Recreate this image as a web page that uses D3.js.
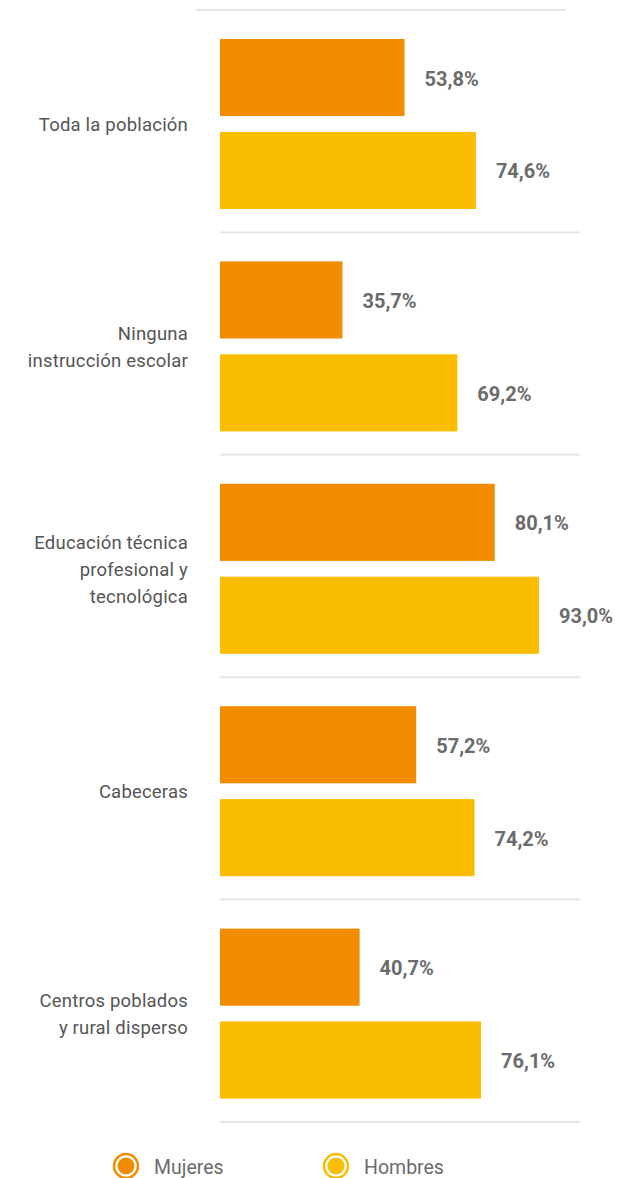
<!DOCTYPE html>
<html><head><meta charset="utf-8">
<script src="https://cdn.jsdelivr.net/npm/d3@7"></script>
<style>body{margin:0;background:#fff}svg{display:block}</style>
</head><body>
<svg id="c" width="627" height="1178"></svg>
<script>
const categories = [
  ["Toda la población"],
  ["Ninguna", "instrucción escolar"],
  ["Educación técnica", "profesional y", "tecnológica"],
  ["Cabeceras"],
  ["Centros poblados", "y rural disperso"]
];
const seriesNames = ["Mujeres", "Hombres"];
const mujeres = [53.8, 35.7, 80.1, 57.2, 40.7];
const hombres = [74.6, 69.2, 93.0, 74.2, 76.1];
const colors = ["#F28C00", "#FBBD00"];

const svg = d3.select("#c");
const keys = categories.map((c, i) => i);
const x = d3.scaleLinear().domain([0, 100]).range([220, 563]);
const y = d3.scaleBand().domain(keys).range([10, 1122]).padding(0);
const yi = d3.scaleBand().domain(seriesNames).range([29, 199]).paddingInner(0.17);
const fmt = v => d3.format(".1f")(v).replace(".", ",") + "%";

// separators
const seps = d3.range(keys.length + 1).map(i => 10 + i * y.step());
svg.selectAll("line.sep").data(seps).join("line")
  .attr("x1", (d, i) => i === 0 ? 196 : 220)
  .attr("x2", (d, i) => i === 0 ? 566 : 580)
  .attr("y1", d => d).attr("y2", d => d)
  .attr("stroke", "#e6e6e6").attr("stroke-width", 2);

const g = svg.selectAll("g.grp").data(keys).join("g")
  .attr("transform", d => `translate(0,${y(d)})`);

g.each(function(i) {
  const gg = d3.select(this);
  const vals = [mujeres[i], hombres[i]];
  seriesNames.forEach((s, j) => {
    gg.append("rect")
      .attr("x", x(0)).attr("y", yi(s))
      .attr("width", x(vals[j]) - x(0)).attr("height", yi.bandwidth())
      .attr("fill", colors[j]);
    gg.append("text")
      .attr("x", x(vals[j]) + 20).attr("y", yi(s) + yi.bandwidth() / 2 + 1)
      .attr("dominant-baseline", "central")
      .attr("font-family", "Roboto, sans-serif").attr("font-weight", 700)
      .attr("font-size", 20).attr("fill", "#6b6b6b")
      .text(fmt(vals[j]));
  });
  const lines = categories[i];
  const lh = 27;
  const cy = y.bandwidth() / 2 + 4;
  const t = gg.append("text")
    .attr("text-anchor", "end")
    .attr("font-family", "Roboto, sans-serif").attr("font-size", 18.5)
    .attr("letter-spacing", 0.2)
    .attr("fill", "#555");
  lines.forEach((l, k) => {
    t.append("tspan").attr("x", 188)
      .attr("y", cy + (k - (lines.length - 1) / 2) * lh)
      .attr("dominant-baseline", "central").text(l);
  });
});

// legend
const lx = [126, 336];
const lg = svg.selectAll("g.leg").data(seriesNames).join("g")
  .attr("transform", (d, i) => `translate(${lx[i]},1166)`);
lg.append("circle").attr("r", 12).attr("fill", "none")
  .attr("stroke", (d, i) => colors[i]).attr("stroke-width", 2.5);
lg.append("circle").attr("r", 8.5).attr("fill", (d, i) => colors[i]);
lg.append("text").attr("x", 28).attr("y", 1)
  .attr("dominant-baseline", "central")
  .attr("font-family", "Roboto, sans-serif").attr("font-size", 19.5)
  .attr("fill", "#6b6b6b").text(d => d);
</script>
</body></html>
